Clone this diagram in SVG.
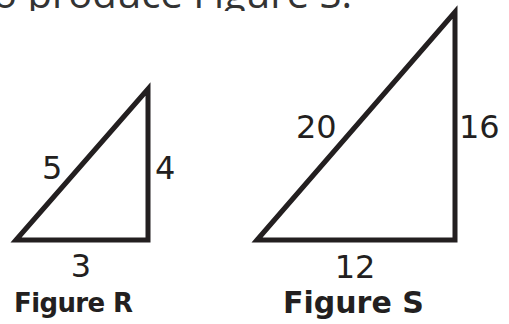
<svg xmlns="http://www.w3.org/2000/svg" width="509" height="324" viewBox="0 0 509 324">
<defs>
<style>
.tri{fill:none;stroke:#231f20;stroke-width:5;stroke-linejoin:miter;stroke-linecap:square}
.num{font-family:"DejaVu Sans",Verdana,sans-serif;font-size:32px;fill:#231f20}
.cap{font-family:"DejaVu Sans",Verdana,sans-serif;font-weight:bold;fill:#231f20}
.top{font-family:"Open Sans",sans-serif;font-size:40px;fill:#333}
</style>
<clipPath id="topclip"><rect x="0" y="0" width="509" height="11"/></clipPath>
</defs>
<rect width="509" height="324" fill="#fff"/>
<text class="top" x="-7" y="8" clip-path="url(#topclip)">o produce Figure S.</text>
<g id="figureR">
<polygon class="tri" points="16,240 148,89 148,240"/>
<text class="num" x="42" y="179">5</text>
<text class="num" x="155" y="179">4</text>
<text class="num" x="81" y="277" text-anchor="middle">3</text>
<text class="cap" x="14" y="312" font-size="26" textLength="119" lengthAdjust="spacing">Figure R</text>
</g>
<g id="figureS">
<polygon class="tri" points="257,240 455,12 455,240"/>
<text class="num" x="296" y="138">20</text>
<text class="num" x="459" y="138">16</text>
<text class="num" x="355" y="278" text-anchor="middle">12</text>
<text class="cap" x="283" y="313" font-size="30">Figure S</text>
</g>
</svg>
